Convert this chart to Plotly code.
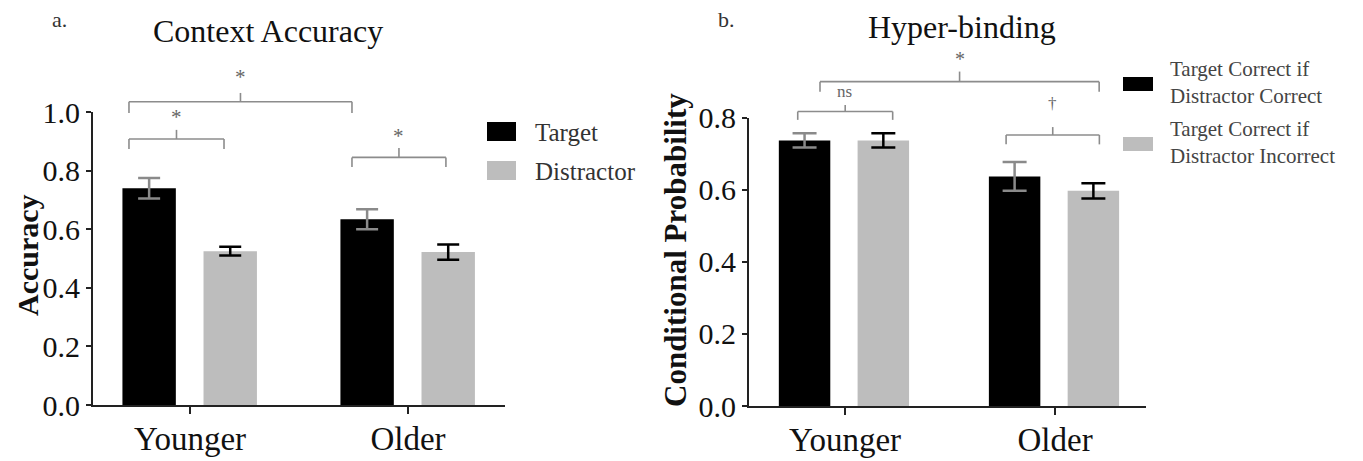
import plotly.graph_objects as go

# ---------------- data ----------------
groups = ["Younger", "Older"]

# Panel a: Context Accuracy
acc_target = [0.74, 0.634]
acc_target_err = [0.035, 0.034]
acc_distractor = [0.525, 0.522]
acc_distractor_err = [0.015, 0.026]

# Panel b: Hyper-binding
hb_dc = [0.737, 0.637]       # Target Correct if Distractor Correct
hb_dc_err = [0.02, 0.04]
hb_di = [0.737, 0.597]       # Target Correct if Distractor Incorrect
hb_di_err = [0.02, 0.021]

a_ticks = [0.0, 0.2, 0.4, 0.6, 0.8, 1.0]
b_ticks = [0.0, 0.2, 0.4, 0.6, 0.8]

# significance brackets: (x_left, x_right, y_bar, y_end, y_stem, label, label_x, label_y)
a_brackets = [
    (-0.28, 0.743, 1.035, 0.997, 1.065, "*", 0.23, 1.12),
    (-0.28, 0.156, 0.908, 0.874, 0.939, "*", -0.06, 0.983),
    (0.743, 1.174, 0.845, 0.812, 0.877, "*", 0.955, 0.918),
]
b_brackets = [
    (-0.119, 1.21, 0.900, 0.872, 0.928, "*", 0.548, 0.962),
    (-0.225, 0.227, 0.817, 0.794, 0.835, "ns", 0.0, 0.872),
    (0.767, 1.211, 0.752, 0.726, 0.774, "†", 0.99, 0.84),
]

BLACK = "#000000"
GRAY = "#bdbdbd"
ERR_GRAY = "#8a8a8a"
BR_GRAY = "#8c8c8c"
FONT = "Liberation Serif"

# page body has an 8px margin: the figure is sized to fit the window
OFF = 8
W, H = 1363 - OFF, 461 - OFF

fig = go.Figure()

def add_bar(x, y, err, color, errcolor, offset, xa, ya, capw):
    fig.add_trace(go.Bar(
        x=x, y=y, marker=dict(color=color, line=dict(width=0)),
        offset=offset, width=0.245,
        error_y=dict(type="data", array=err, color=errcolor, thickness=2.5, width=capw),
        xaxis=xa, yaxis=ya, showlegend=False,
    ))

add_bar(groups, acc_target, acc_target_err, BLACK, ERR_GRAY, -0.31, "x", "y", 11)
add_bar(groups, acc_distractor, acc_distractor_err, GRAY, BLACK, 0.062, "x", "y", 11)
add_bar(groups, hb_dc, hb_dc_err, BLACK, ERR_GRAY, -0.315, "x2", "y2", 12)
add_bar(groups, hb_di, hb_di_err, GRAY, BLACK, 0.06, "x2", "y2", 12)

axis_common = dict(
    showline=True, linecolor="#222", linewidth=2, ticks="outside",
    tickcolor="#222", tickwidth=2, showgrid=False, zeroline=False,
    fixedrange=True, automargin=False,
)

def px_x(p):
    return (p - OFF) / W

def px_y(p):
    return 1 - (p - OFF) / H

xfont = dict(size=33, family=FONT, color="#111")
yfont = dict(size=30, family=FONT, color="#111")

fig.update_layout(
    width=W, height=H,
    margin=dict(l=0, r=0, t=0, b=0, pad=0, autoexpand=False),
    paper_bgcolor="white", plot_bgcolor="white", barmode="overlay",
    font=dict(family=FONT, color="#111"),
    xaxis=dict(axis_common, domain=[px_x(93), px_x(505)], type="category",
               range=[-0.445, 1.445], ticklen=7, ticklabelstandoff=-4,
               tickfont=xfont),
    yaxis=dict(axis_common, domain=[px_y(405), px_y(112)], range=[0, 1.0],
               tickvals=a_ticks, tickformat=".1f", ticklen=5, tickfont=yfont),
    xaxis2=dict(axis_common, domain=[px_x(749), px_x(1146)], type="category",
                range=[-0.457, 1.433], ticklen=7, anchor="y2", ticklabelstandoff=-4,
                tickfont=xfont),
    yaxis2=dict(axis_common, domain=[px_y(406), px_y(117.7)], range=[0, 0.8],
                tickvals=b_ticks, tickformat=".1f", ticklen=5, anchor="x2",
                tickfont=yfont),
)

shapes = []
annotations = []

def add_brackets(brs, xref, yref_dom, ymax, fsize_map):
    for (xl, xr, yb, ye, ys, lab, lx, ly) in brs:
        xm = (xl + xr) / 2
        for (x0, y0, x1, y1) in [
            (xl, yb, xr, yb),
            (xl, yb, xl, ye),
            (xr, yb, xr, ye),
            (xm, yb, xm, ys),
        ]:
            shapes.append(dict(type="line", xref=xref, yref=yref_dom,
                               x0=x0, x1=x1, y0=y0 / ymax, y1=y1 / ymax,
                               line=dict(color=BR_GRAY, width=1.6)))
        annotations.append(dict(text=lab, x=lx, y=ly / ymax, xref=xref, yref=yref_dom,
                                showarrow=False, xanchor="center", yanchor="middle",
                                font=dict(size=fsize_map.get(lab, 20), color="#666", family=FONT)))

add_brackets(a_brackets, "x", "y domain", 1.0, {"*": 21})
add_brackets(b_brackets, "x2", "y2 domain", 0.8, {"*": 20, "ns": 17, "†": 17})

# legend swatches (page px)
def rect(x0, y0, x1, y1, color):
    shapes.append(dict(type="rect", xref="paper", yref="paper",
                       x0=px_x(x0), x1=px_x(x1), y0=px_y(y1), y1=px_y(y0),
                       fillcolor=color, line=dict(width=0)))

rect(487, 122, 516, 141, BLACK)
rect(487, 161, 516, 180, GRAY)
rect(1123, 77, 1153, 91, BLACK)
rect(1123, 137, 1153, 151, GRAY)

def text(t, x, y, size, color="#222", xanchor="left", bold=False, angle=0):
    annotations.append(dict(text=("<b>%s</b>" % t) if bold else t,
                            x=px_x(x), y=px_y(y), xref="paper", yref="paper",
                            showarrow=False, xanchor=xanchor, yanchor="middle",
                            textangle=angle, align="left",
                            font=dict(size=size, color=color, family=FONT)))

text("Target", 533, 132, 25, "#333")
text("Distractor", 533, 171, 25, "#333")
text("Target Correct if<br>Distractor Correct", 1168, 83, 21, "#444")
text("Target Correct if<br>Distractor Incorrect", 1168, 143, 21, "#444")

text("a.", 50, 19, 22, "#333")
text("b.", 716, 19, 22, "#333")
text("Context Accuracy", 268, 31, 32, "#111", xanchor="center")
text("Hyper-binding", 962, 27, 32, "#111", xanchor="center")
text("Accuracy", 27, 255, 30, "#111", xanchor="center", bold=True, angle=-90)
text("Conditional Probability", 676, 250, 31, "#111", xanchor="center", bold=True, angle=-90)

fig.update_layout(shapes=shapes, annotations=annotations)

fig.write_html("out.html")
